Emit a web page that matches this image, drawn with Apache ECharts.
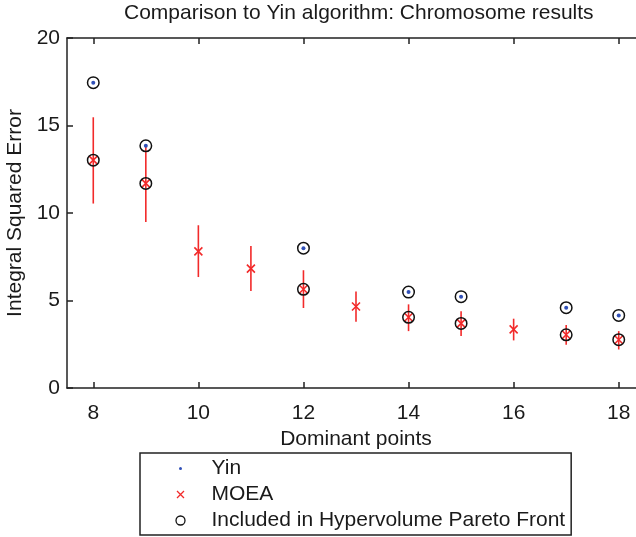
<!DOCTYPE html>
<html>
<head>
<meta charset="utf-8">
<script src="https://cdn.jsdelivr.net/npm/echarts@6/dist/echarts.min.js"></script>
<style>
html,body{margin:0;padding:0;background:#fff;}
#chart{width:636px;height:537px;}
</style>
</head>
<body>
<div id="chart"></div>
<script>
// ---- data ----
const dominantPoints = [8, 9, 10, 11, 12, 13, 14, 15, 16, 17, 18];
const moeaISE  = [13.02, 11.69, 7.81, 6.82, 5.64, 4.66, 4.04, 3.69, 3.35, 3.04, 2.76];
const moeaLow  = [10.54, 9.49, 6.34, 5.54, 4.57, 3.79, 3.25, 2.97, 2.72, 2.47, 2.20];
const moeaHigh = [15.47, 13.82, 9.30, 8.12, 6.73, 5.52, 4.78, 4.38, 3.96, 3.60, 3.25];
const yinPoints = [8, 9, 12, 14, 15, 17, 18];
const yinISE    = [17.45, 13.84, 7.99, 5.48, 5.22, 4.59, 4.15];
const paretoMoeaPoints = [8, 9, 12, 14, 15, 17, 18];
const paretoYinPoints  = [8, 9, 12, 14, 15, 17, 18];
const xTicks = [8, 10, 12, 14, 16, 18];
const yTicks = [0, 5, 10, 15, 20];

// ---- derived tables ----
const yinData = yinPoints.map((x, i) => [x, yinISE[i]]);
const moeaData = dominantPoints.map((x, i) => [x, moeaISE[i]]);
const errData = dominantPoints.map((x, i) => [x, moeaLow[i], moeaHigh[i]]);
const paretoData = []
  .concat(paretoYinPoints.map(x => [x, yinISE[yinPoints.indexOf(x)]]))
  .concat(paretoMoeaPoints.map(x => [x, moeaISE[dominantPoints.indexOf(x)]]));

const FONT = "'Liberation Sans', Arial, Helvetica, sans-serif";
const TXT = '#1a1a1a';
const RED = '#f22a2a';
const BLUE = '#3050b8';
const AX = {color: '#222', width: 1.5};

const xIcon = 'path://M0,0M14,14M3.5,3.5L10.5,10.5M10.5,3.5L3.5,10.5';
const dotIcon = 'path://M0,0M14,14M7,5.5A1.5,1.5,0,1,1,7,8.5A1.5,1.5,0,1,1,7,5.5Z';
const circIcon = 'path://M0,0M14,14M7,2.5A4.5,4.5,0,1,1,7,11.5A4.5,4.5,0,1,1,7,2.5Z';
const xSymbol = 'path://M0,0L10,10M10,0L0,10';

const chart = echarts.init(document.getElementById('chart'), null, {renderer: 'canvas'});
chart.setOption({
  animation: false,
  backgroundColor: '#fff',
  textStyle: {fontFamily: FONT},
  title: {
    text: 'Comparison to Yin algorithm: Chromosome results',
    left: 124, top: 3, padding: 0,
    textStyle: {fontFamily: FONT, fontSize: 21, fontWeight: 'normal', color: TXT}
  },
  grid: {left: 67, top: 38, width: 578, height: 350, containLabel: false, outerBoundsMode: 'none'},
  legend: {
    orient: 'vertical',
    left: 140, top: 453,
    padding: [5, 6, 4, 31],
    itemWidth: 14, itemHeight: 14, itemGap: 5,
    borderColor: '#222', borderWidth: 1.5,
    backgroundColor: '#fff',
    selectedMode: false,
    textStyle: {fontFamily: FONT, fontSize: 21, color: TXT, lineHeight: 21, padding: [0, 0, 0, 19]},
    data: [
      {name: 'Yin', icon: dotIcon, itemStyle: {color: BLUE, borderWidth: 0}},
      {name: 'MOEA', icon: xIcon, itemStyle: {color: 'none', borderColor: RED, borderWidth: 1.3}},
      {name: 'Included in Hypervolume Pareto Front', icon: circIcon, itemStyle: {color: 'none', borderColor: '#111', borderWidth: 1.3}}
    ]
  },
  xAxis: [{
    type: 'value', min: 7.5, max: 18.5, position: 'bottom',
    axisLine: {show: true, onZero: false, lineStyle: AX},
    axisTick: {show: true, inside: true, length: 6, customValues: xTicks, lineStyle: AX},
    axisLabel: {customValues: xTicks, fontSize: 21, margin: 15, color: TXT, fontFamily: FONT},
    splitLine: {show: false},
    name: 'Dominant points', nameLocation: 'middle', nameGap: 40,
    nameTextStyle: {fontSize: 21, color: TXT, fontFamily: FONT}
  }, {
    type: 'value', min: 7.5, max: 18.5, position: 'top',
    axisLine: {show: true, onZero: false, lineStyle: AX},
    axisTick: {show: true, inside: true, length: 6, customValues: xTicks, lineStyle: AX},
    axisLabel: {show: false},
    splitLine: {show: false}
  }],
  yAxis: [{
    type: 'value', min: 0, max: 20, interval: 5, position: 'left',
    axisLine: {show: true, onZero: false, lineStyle: AX},
    axisTick: {show: true, inside: true, length: 6, customValues: yTicks, lineStyle: AX},
    axisLabel: {customValues: yTicks, fontSize: 21, margin: 7, color: TXT, fontFamily: FONT},
    splitLine: {show: false},
    name: 'Integral Squared Error', nameLocation: 'middle', nameGap: 34, nameRotate: 90,
    nameTextStyle: {fontSize: 21, color: TXT, fontFamily: FONT}
  }, {
    type: 'value', min: 0, max: 20, interval: 5, position: 'right',
    axisLine: {show: true, onZero: false, lineStyle: AX},
    axisTick: {show: true, inside: true, length: 6, lineStyle: AX},
    axisLabel: {show: false},
    splitLine: {show: false}
  }],
  series: [
    {
      name: 'errorbar', type: 'custom', xAxisIndex: 0, yAxisIndex: 0,
      data: errData, encode: {x: 0, y: [1, 2]}, silent: true, z: 2,
      renderItem: function (params, api) {
        const x = api.value(0);
        const lo = api.coord([x, api.value(1)]);
        const hi = api.coord([x, api.value(2)]);
        return {type: 'line', shape: {x1: lo[0], y1: lo[1], x2: hi[0], y2: hi[1]},
                style: {stroke: RED, lineWidth: 1.6}};
      }
    },
    {
      name: 'MOEA', type: 'scatter', xAxisIndex: 0, yAxisIndex: 0, z: 3,
      data: moeaData, symbol: xSymbol, symbolSize: 8,
      itemStyle: {color: 'none', borderColor: RED, borderWidth: 1.6, opacity: 1}
    },
    {
      name: 'Included in Hypervolume Pareto Front', type: 'scatter', xAxisIndex: 0, yAxisIndex: 0, z: 4,
      data: paretoData, symbol: 'circle', symbolSize: 11.5,
      itemStyle: {color: 'none', borderColor: '#111', borderWidth: 1.5, opacity: 1}
    },
    {
      name: 'Yin', type: 'scatter', xAxisIndex: 0, yAxisIndex: 0, z: 5,
      data: yinData, symbol: 'circle', symbolSize: 4,
      itemStyle: {color: BLUE, opacity: 1}
    }
  ]
});
</script>
</body>
</html>
